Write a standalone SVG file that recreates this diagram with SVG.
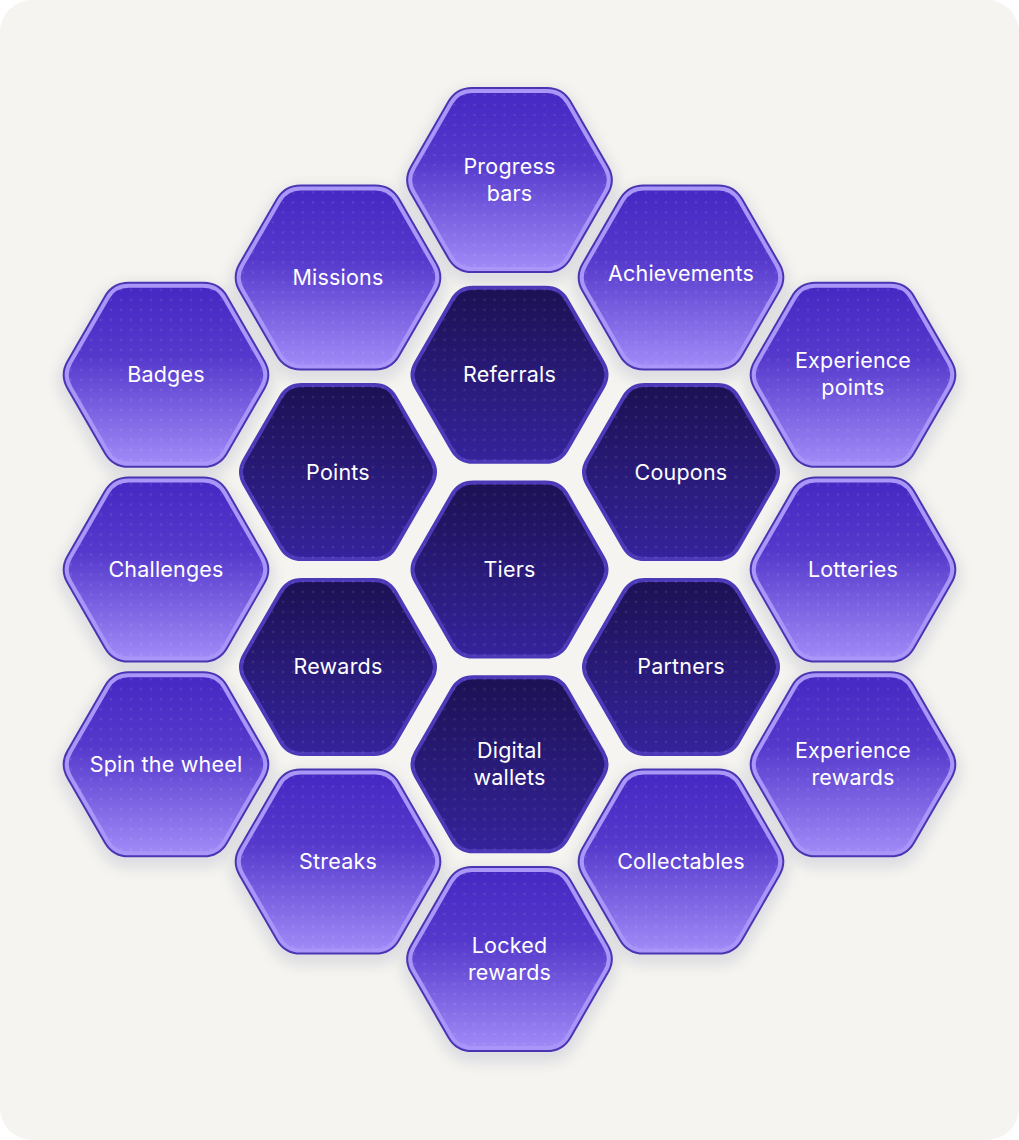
<svg xmlns="http://www.w3.org/2000/svg" xmlns:xlink="http://www.w3.org/1999/xlink" width="1019" height="1140" viewBox="0 0 1019 1140">
<style>
.lo{fill:none;stroke:#4934b2;stroke-width:8;filter:url(#sh)}
.lf{fill:url(#gL)}
.dots{fill:url(#dots)}
.ll{fill:none;stroke:#a996f8;stroke-width:4}
.df{fill:url(#gD);stroke:#4b39b8;stroke-width:4}
text{font-family:Inter,"Noto Sans","Liberation Sans",sans-serif;font-size:21.5px;letter-spacing:0.2px;fill:#ffffff;text-anchor:middle}
</style>
<defs>
<linearGradient id="gL" x1="0" y1="0" x2="0" y2="1">
<stop offset="0" stop-color="#4528c2"/>
<stop offset="0.4" stop-color="#5539cc"/>
<stop offset="1" stop-color="#a08af7"/>
</linearGradient>
<linearGradient id="gD" x1="0" y1="0" x2="0" y2="1">
<stop offset="0" stop-color="#1c1153"/>
<stop offset="1" stop-color="#34239b"/>
</linearGradient>
<pattern id="dots" patternUnits="userSpaceOnUse" width="10" height="10" x="0" y="0">
<circle cx="5" cy="5" r="1.3" fill="#ffffff" fill-opacity="0.09"/>
</pattern>
<filter id="sh" x="-30%" y="-30%" width="160%" height="160%">
<feDropShadow dx="0" dy="6" stdDeviation="8" flood-color="#2a2050" flood-opacity="0.22"/>
</filter>
<path id="hexL" d="M-95.8,-12.12 L-58.4,-76.88 Q-51.4,-89 -37.4,-89 L37.4,-89 Q51.4,-89 58.4,-76.88 L95.8,-12.12 Q102.8,0 95.8,12.12 L58.4,76.88 Q51.4,89 37.4,89 L-37.4,89 Q-51.4,89 -58.4,76.88 L-95.8,12.12 Q-102.8,0 -95.8,-12.12 Z"/>
<path id="hexD" d="M-93.5,-12.12 L-57.25,-74.88 Q-50.25,-87 -36.25,-87 L36.25,-87 Q50.25,-87 57.25,-74.88 L93.5,-12.12 Q100.5,0 93.5,12.12 L57.25,74.88 Q50.25,87 36.25,87 L-36.25,87 Q-50.25,87 -57.25,74.88 L-93.5,12.12 Q-100.5,0 -93.5,-12.12 Z"/>
<g id="L"><use href="#hexL" class="lo"/><use href="#hexL" class="lf"/><use href="#hexL" class="dots"/><use href="#hexL" class="ll"/></g>
<g id="D"><use href="#hexD" class="df"/><use href="#hexD" class="dots"/></g>
</defs>
<rect x="0" y="0" width="1019" height="1140" fill="#ffffff"/>
<rect x="0" y="0" width="1019" height="1140" rx="32" fill="#f5f4f1"/>

<g id="progress-bars" transform="translate(509.5,180)"><use href="#L"/><text y="-6.5">Progress</text><text y="20.5">bars</text></g>
<g id="missions" transform="translate(338,277.4)"><use href="#L"/><text y="7.5">Missions</text></g>
<g id="achievements" transform="translate(681,277.4)"><use href="#L"/><text y="3.5">Achievements</text></g>
<g id="badges" transform="translate(166,374.8)"><use href="#L"/><text y="7.5">Badges</text></g>
<g id="experience-points" transform="translate(853,374.8)"><use href="#L"/><text y="-6.5">Experience</text><text y="20.5">points</text></g>
<g id="challenges" transform="translate(166,569.5)"><use href="#L"/><text y="7.5">Challenges</text></g>
<g id="lotteries" transform="translate(853,569.5)"><use href="#L"/><text y="7.5">Lotteries</text></g>
<g id="spin-the-wheel" transform="translate(166,764.3)"><use href="#L"/><text y="7.5">Spin the wheel</text></g>
<g id="experience-rewards" transform="translate(853,764.3)"><use href="#L"/><text y="-6.5">Experience</text><text y="20.5">rewards</text></g>
<g id="streaks" transform="translate(338,861.6)"><use href="#L"/><text y="7.5">Streaks</text></g>
<g id="collectables" transform="translate(681,861.6)"><use href="#L"/><text y="7.5">Collectables</text></g>
<g id="locked-rewards" transform="translate(509.5,959)"><use href="#L"/><text y="-6.5">Locked</text><text y="20.5">rewards</text></g>

<g id="referrals" transform="translate(509.5,374.8)"><use href="#D"/><text y="7.5">Referrals</text></g>
<g id="points" transform="translate(338,472.1)"><use href="#D"/><text y="7.5">Points</text></g>
<g id="coupons" transform="translate(681,472.1)"><use href="#D"/><text y="7.5">Coupons</text></g>
<g id="tiers" transform="translate(509.5,569.5)"><use href="#D"/><text y="7.5">Tiers</text></g>
<g id="rewards" transform="translate(338,666.9)"><use href="#D"/><text y="7.5">Rewards</text></g>
<g id="partners" transform="translate(681,666.9)"><use href="#D"/><text y="7.5">Partners</text></g>
<g id="digital-wallets" transform="translate(509.5,764.3)"><use href="#D"/><text y="-6.5">Digital</text><text y="20.5">wallets</text></g>
</svg>
